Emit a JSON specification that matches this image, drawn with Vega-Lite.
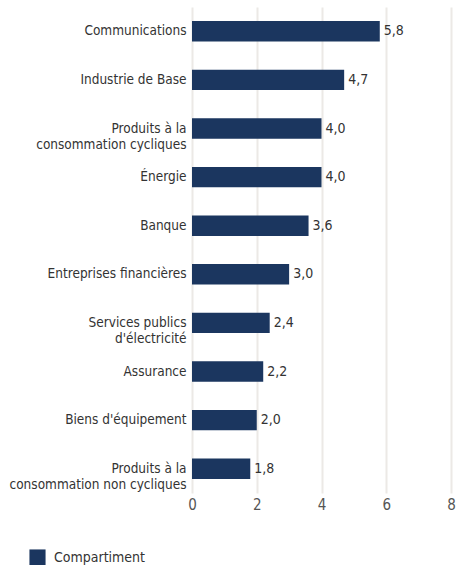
{
  "$schema": "https://vega.github.io/schema/vega-lite/v6.json",
  "autosize": {"type": "none"},
  "width": 259,
  "height": 486,
  "padding": {"left": 192, "top": 7, "right": 12, "bottom": 72},
  "background": "white",
  "config": {
    "view": {"stroke": null},
    "font": "DejaVu Sans Condensed",
    "locale": {"number": {"decimal": ",", "thousands": " ", "grouping": [3], "currency": ["", " €"]}}
  },
  "data": {
    "values": [
      {"secteur": "Communications", "valeur": 5.8, "serie": "Compartiment"},
      {"secteur": "Industrie de Base", "valeur": 4.7, "serie": "Compartiment"},
      {"secteur": "Produits à la|consommation cycliques", "valeur": 4.0, "serie": "Compartiment"},
      {"secteur": "Énergie", "valeur": 4.0, "serie": "Compartiment"},
      {"secteur": "Banque", "valeur": 3.6, "serie": "Compartiment"},
      {"secteur": "Entreprises financières", "valeur": 3.0, "serie": "Compartiment"},
      {"secteur": "Services publics|d'électricité", "valeur": 2.4, "serie": "Compartiment"},
      {"secteur": "Assurance", "valeur": 2.2, "serie": "Compartiment"},
      {"secteur": "Biens d'équipement", "valeur": 2.0, "serie": "Compartiment"},
      {"secteur": "Produits à la|consommation non cycliques", "valeur": 1.8, "serie": "Compartiment"}
    ]
  },
  "encoding": {
    "y": {
      "field": "secteur",
      "type": "nominal",
      "sort": null,
      "title": null,
      "scale": {"paddingInner": 0.58, "paddingOuter": 0.29},
      "axis": {
        "domain": false,
        "ticks": false,
        "labelPadding": 6,
        "labelFontSize": 13.5,
        "labelColor": "#333333",
        "labelLineHeight": 16,
        "labelLimit": 200,
        "labelExpr": "split(datum.value, '|')"
      }
    },
    "x": {
      "field": "valeur",
      "type": "quantitative",
      "title": null,
      "scale": {"domain": [0, 8]},
      "axis": {
        "values": [0, 2, 4, 6, 8],
        "domain": false,
        "ticks": false,
        "grid": true,
        "gridColor": "#ece9e6",
        "gridWidth": 2,
        "labelFontSize": 15,
        "labelColor": "#555555",
        "labelPadding": 4,
        "labelFlush": false,
        "format": "d"
      }
    }
  },
  "layer": [
    {
      "mark": {"type": "bar", "color": "#1b365f"},
      "encoding": {
        "color": {
          "field": "serie",
          "type": "nominal",
          "scale": {"range": ["#1b365f"]},
          "legend": {
            "title": null,
            "orient": "none",
            "legendX": -163,
            "legendY": 542,
            "symbolType": "square",
            "symbolSize": 260,
            "symbolStrokeWidth": 0,
            "labelFontSize": 14,
            "labelColor": "#333333",
            "labelOffset": 8
          }
        }
      }
    },
    {
      "mark": {"type": "text", "align": "left", "dx": 4, "fontSize": 14, "color": "#333333"},
      "encoding": {
        "text": {"field": "valeur", "type": "quantitative", "format": ".1f"}
      }
    }
  ]
}
